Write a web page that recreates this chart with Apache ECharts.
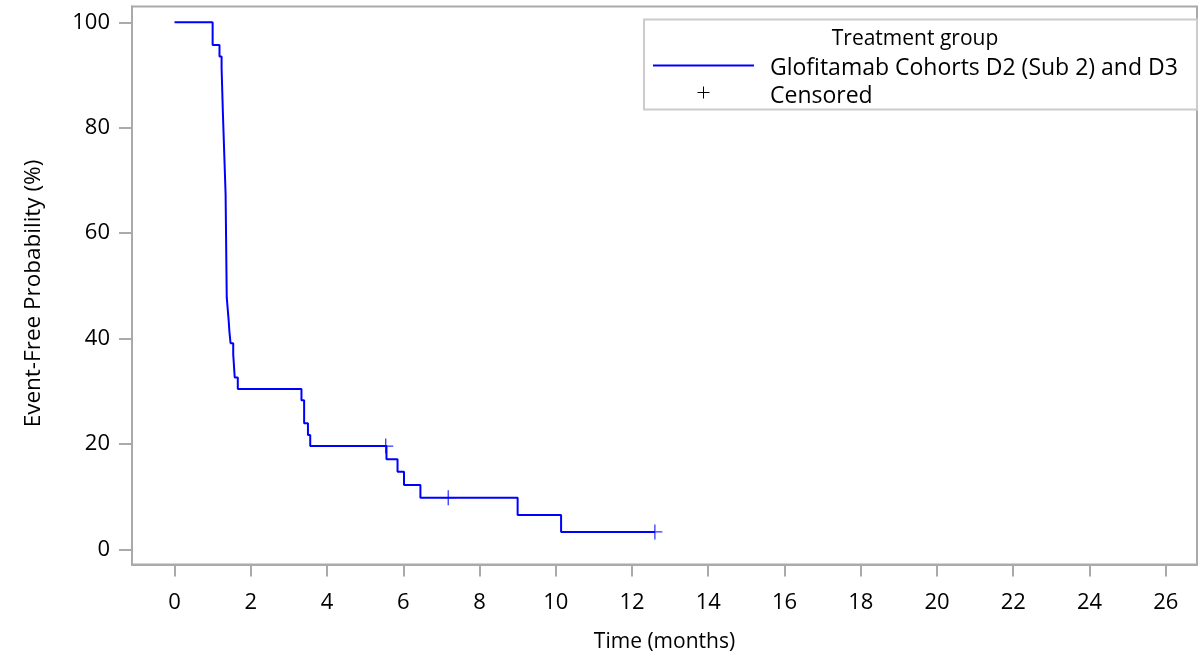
<!DOCTYPE html>
<html>
<head>
<meta charset="utf-8">
<title>Event-Free Probability</title>
<script src="https://cdn.jsdelivr.net/npm/echarts@6/dist/echarts.min.js"></script>
<style>
  html, body { margin: 0; padding: 0; background: #fff; }
  #myChart { width: 1199px; height: 660px; }
</style>
</head>
<body>
<div id="myChart"></div>
<script>
// KM curve: time (months) and event-free probability (%) after each event
var kmTimes = [0, 1.0, 1.18, 1.235, 1.27, 1.31, 1.34, 1.37, 1.42, 1.44, 1.47, 1.54, 1.58, 1.66,
               3.33, 3.40, 3.50, 3.56, 5.56, 5.85, 6.02, 6.45, 9.0, 10.14, 12.6];
var kmSurv  = [100, 95.7, 93.5, 91.3, 82.6, 73.9, 67.4, 47.8, 43.5, 41.3, 39.1, 37.0, 32.6, 30.4,
               28.3, 23.9, 21.7, 19.6, 17.1, 14.7, 12.2, 9.8, 6.5, 3.3, 3.3];
// censored observations
var censorTimes = [5.54, 7.18, 12.6];
var censorSurv  = [19.6, 9.8, 3.3];
// tick labels
var xTicks = [0, 2, 4, 6, 8, 10, 12, 14, 16, 18, 20, 22, 24, 26];
var yTicks = [0, 20, 40, 60, 80, 100];

var seriesName = 'Glofitamab Cohorts D2 (Sub 2) and D3';
var fontFam = '"Open Sans", sans-serif';

var myChart = echarts.init(document.getElementById('myChart'));

var kmData = kmTimes.map(function (t, i) { return [t, kmSurv[i]]; });
var censorData = censorTimes.map(function (t, i) { return [t, censorSurv[i]]; });

var plusPath = 'path://M6.4,0h1.2v6.4h6.4v1.2h-6.4v6.4h-1.2v-6.4h-6.4v-1.2h6.4z';

var option = {
    animation: false,
    backgroundColor: '#fff',
    textStyle: { fontFamily: fontFam },
    grid: {
        left: 132, right: 2, top: 6.5, bottom: 95.5,
        show: true, borderColor: '#aaaaaa', borderWidth: 2, backgroundColor: 'transparent'
    },
    xAxis: {
        type: 'value',
        min: -1.115, max: 26.82,
        name: 'Time (months)',
        nameLocation: 'middle',
        nameGap: 67,
        nameTextStyle: { color: '#000', fontSize: 21, fontFamily: fontFam },
        axisLine: { show: true, onZero: false, lineStyle: { color: '#aaaaaa', width: 2 } },
        axisTick: { show: true, length: 12, customValues: xTicks, lineStyle: { color: '#aaaaaa', width: 2 } },
        axisLabel: { customValues: xTicks, margin: 27, color: '#000', fontSize: 22, fontFamily: fontFam },
        splitLine: { show: false }
    },
    yAxis: {
        type: 'value',
        min: -2.88, max: 103,
        name: 'Event-Free Probability (%)',
        nameLocation: 'middle',
        nameGap: 87,
        nameTextStyle: { color: '#000', fontSize: 22.5, fontFamily: fontFam, padding: [0, 16, 0, 0] },
        axisLine: { show: true, onZero: false, lineStyle: { color: '#aaaaaa', width: 2 } },
        axisTick: { show: true, length: 13, customValues: yTicks, lineStyle: { color: '#aaaaaa', width: 2 } },
        axisLabel: { customValues: yTicks, margin: 22, color: '#000', fontSize: 22, fontFamily: fontFam },
        splitLine: { show: false }
    },
    series: [
        {
            name: seriesName,
            type: 'line',
            step: 'end',
            data: kmData,
            showSymbol: false,
            lineStyle: { color: '#0000ff', width: 2 },
            z: 2
        },
        {
            name: 'Censored',
            type: 'scatter',
            data: censorData,
            symbol: plusPath,
            symbolSize: 15,
            itemStyle: { color: '#0000ff' },
            z: 3
        }
    ],
    graphic: [
        // legend box
        { type: 'rect', shape: { x: 644, y: 19.5, width: 553, height: 90 },
          style: { fill: '#fff', stroke: '#cccccc', lineWidth: 2 } },
        { type: 'text', x: 915, y: 39,
          style: { text: 'Treatment group', fill: '#000', font: '21px ' + fontFam, align: 'center', verticalAlign: 'middle' } },
        { type: 'line', shape: { x1: 653, y1: 65.5, x2: 754, y2: 65.5 },
          style: { stroke: '#0000ff', lineWidth: 2 } },
        { type: 'text', x: 770, y: 68,
          style: { text: seriesName, fill: '#000', font: '23px ' + fontFam, verticalAlign: 'middle' } },
        { type: 'line', shape: { x1: 697.5, y1: 92.5, x2: 709.5, y2: 92.5 },
          style: { stroke: '#000', lineWidth: 1 } },
        { type: 'line', shape: { x1: 703.5, y1: 86.5, x2: 703.5, y2: 98.5 },
          style: { stroke: '#000', lineWidth: 1 } },
        { type: 'text', x: 770, y: 96,
          style: { text: 'Censored', fill: '#000', font: '23px ' + fontFam, verticalAlign: 'middle' } }
    ]
};

myChart.setOption(option);
</script>
</body>
</html>
